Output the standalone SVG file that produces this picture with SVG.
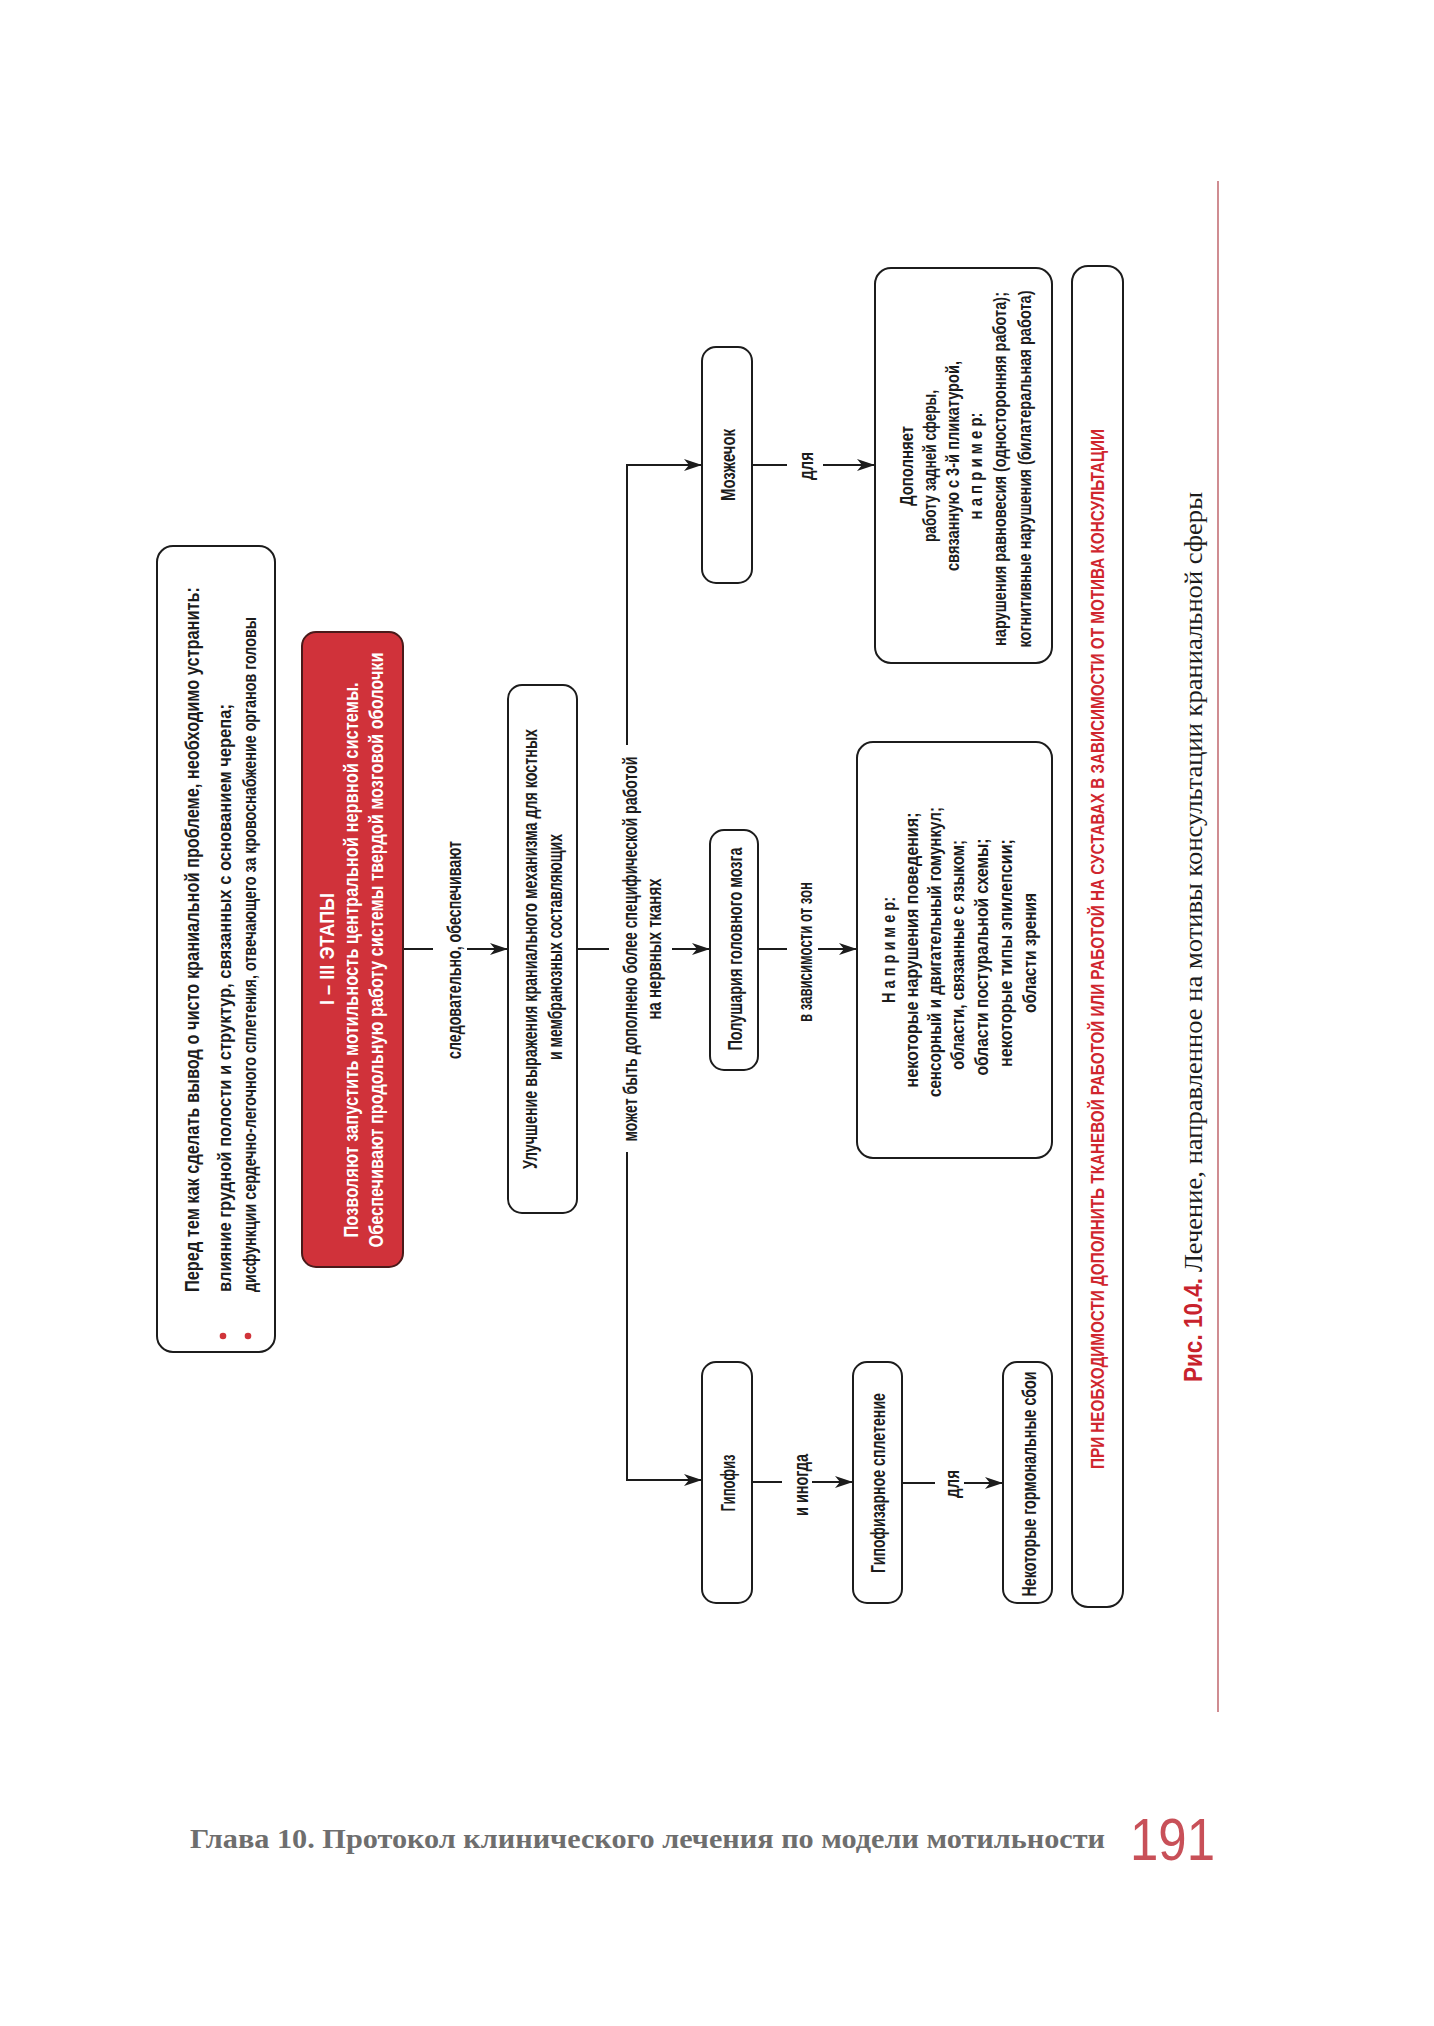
<svg xmlns="http://www.w3.org/2000/svg" width="1434" height="2026" viewBox="0 0 1434 2026">
<style>
.t{font-family:"Liberation Sans Narrow","Liberation Sans","DejaVu Sans Condensed",sans-serif;fill:#1c1c1c;font-weight:bold;}
.box{fill:#fff;stroke:#1c1c1c;stroke-width:2;}
.ln{stroke:#1c1c1c;stroke-width:2;fill:none;}
.w{fill:#fff;}
.red{fill:#d0262e;}
</style>
<defs>
<marker id="ah" markerWidth="18" markerHeight="12" refX="18" refY="6" orient="auto" markerUnits="userSpaceOnUse">
<path d="M0,0 L18,6 L0,12 L5,6 z" fill="#1c1c1c"/>
</marker>
</defs>
<rect width="1434" height="2026" fill="#fff"/>

<g id="connectors">
<path class="ln" d="M403,949 H433"/>
<path class="ln" d="M467,949 H508" marker-end="url(#ah)"/>
<path class="ln" d="M577,949 H609"/>
<path class="ln" d="M672,949 H710" marker-end="url(#ah)"/>
<path class="ln" d="M627,745 V465 H702" marker-end="url(#ah)"/>
<path class="ln" d="M627,1152 V1480 H702" marker-end="url(#ah)"/>
<path class="ln" d="M752,465 H787"/>
<path class="ln" d="M823,465 H875" marker-end="url(#ah)"/>
<path class="ln" d="M758,949 H787"/>
<path class="ln" d="M818,949 H857" marker-end="url(#ah)"/>
<path class="ln" d="M752,1482 H782"/>
<path class="ln" d="M812,1482 H853" marker-end="url(#ah)"/>
<path class="ln" d="M902,1483 H935"/>
<path class="ln" d="M964,1483 H1003" marker-end="url(#ah)"/>
<text class="t" font-size="20" text-anchor="middle" transform="translate(461,950) rotate(-90)" textLength="218" lengthAdjust="spacingAndGlyphs">следовательно, обеспечивают</text>
<text class="t" font-size="20" text-anchor="middle" transform="translate(637,949) rotate(-90)" textLength="385" lengthAdjust="spacingAndGlyphs">может быть дополнено более специфической работой</text>
<text class="t" font-size="20" text-anchor="middle" transform="translate(661,949) rotate(-90)" textLength="141" lengthAdjust="spacingAndGlyphs">на нервных тканях</text>
<text class="t" font-size="20" text-anchor="middle" transform="translate(813,466) rotate(-90)" textLength="28" lengthAdjust="spacingAndGlyphs">для</text>
<text class="t" font-size="20" text-anchor="middle" transform="translate(812,952) rotate(-90)" textLength="140" lengthAdjust="spacingAndGlyphs">в зависимости от зон</text>
<text class="t" font-size="20" text-anchor="middle" transform="translate(808,1485) rotate(-90)" textLength="62" lengthAdjust="spacingAndGlyphs">и иногда</text>
<text class="t" font-size="20" text-anchor="middle" transform="translate(959,1484) rotate(-90)" textLength="28" lengthAdjust="spacingAndGlyphs">для</text>
</g>

<g id="n-intro">
<rect class="box" x="157" y="546" width="118" height="806" rx="16"/>
<text class="t" font-size="21" transform="translate(199,1292) rotate(-90)" textLength="705" lengthAdjust="spacingAndGlyphs">Перед тем как сделать вывод о чисто краниальной проблеме, необходимо устранить:</text>
<circle cx="223" cy="1336" r="3.3" fill="#d0343a"/>
<text class="t" font-size="19" transform="translate(231,1292) rotate(-90)" textLength="588" lengthAdjust="spacingAndGlyphs">влияние грудной полости и структур, связанных с основанием черепа;</text>
<circle cx="248" cy="1336" r="3.3" fill="#d0343a"/>
<text class="t" font-size="19" transform="translate(256,1292) rotate(-90)" textLength="675" lengthAdjust="spacingAndGlyphs">дисфункции сердечно-легочного сплетения, отвечающего за кровоснабжение органов головы</text>
</g>

<g id="n-stages">
<rect x="302" y="632" width="101" height="635" rx="14" fill="#d0323a" stroke="#4a1a1a" stroke-width="2"/>
<text class="t w" font-size="20" text-anchor="middle" transform="translate(334,949) rotate(-90)" textLength="112" lengthAdjust="spacingAndGlyphs">I – III ЭТАПЫ</text>
<text class="t w" font-size="20" text-anchor="middle" transform="translate(358,960) rotate(-90)" textLength="555" lengthAdjust="spacingAndGlyphs">Позволяют запустить мотильность центральной нервной системы.</text>
<text class="t w" font-size="20" text-anchor="middle" transform="translate(383,950) rotate(-90)" textLength="595" lengthAdjust="spacingAndGlyphs">Обеспечивают продольную работу системы твердой мозговой оболочки</text>
</g>

<g id="n-improve">
<rect class="box" x="508" y="685" width="69" height="528" rx="14"/>
<text class="t" font-size="20" text-anchor="middle" transform="translate(537,949) rotate(-90)" textLength="440" lengthAdjust="spacingAndGlyphs">Улучшение выражения краниального механизма для костных</text>
<text class="t" font-size="20" text-anchor="middle" transform="translate(562,947) rotate(-90)" textLength="226" lengthAdjust="spacingAndGlyphs">и мембранозных составляющих</text>
</g>

<g id="n-cerebellum">
<rect class="box" x="702" y="347" width="50" height="236" rx="14"/>
<text class="t" font-size="20" text-anchor="middle" transform="translate(735,465) rotate(-90)" textLength="72" lengthAdjust="spacingAndGlyphs">Мозжечок</text>
</g>

<g id="n-complement">
<rect class="box" x="875" y="268" width="177" height="395" rx="16"/>
<text class="t" font-size="19" text-anchor="middle" transform="translate(913,466) rotate(-90)" textLength="80" lengthAdjust="spacingAndGlyphs">Дополняет</text>
<text class="t" font-size="19" text-anchor="middle" transform="translate(936,466) rotate(-90)" textLength="152" lengthAdjust="spacingAndGlyphs">работу задней сферы,</text>
<text class="t" font-size="19" text-anchor="middle" transform="translate(959,466) rotate(-90)" textLength="210" lengthAdjust="spacingAndGlyphs">связанную с 3-й пликатурой,</text>
<text class="t" font-size="19" text-anchor="middle" transform="translate(982,466) rotate(-90)" textLength="107" lengthAdjust="spacingAndGlyphs">н а п р и м е р:</text>
<text class="t" font-size="19" text-anchor="middle" transform="translate(1006,469) rotate(-90)" textLength="354" lengthAdjust="spacingAndGlyphs">нарушения равновесия (односторонняя работа);</text>
<text class="t" font-size="19" text-anchor="middle" transform="translate(1031,469) rotate(-90)" textLength="357" lengthAdjust="spacingAndGlyphs">когнитивные нарушения (билатеральная работа)</text>
</g>

<g id="n-hemispheres">
<rect class="box" x="710" y="830" width="48" height="240" rx="14"/>
<text class="t" font-size="20" text-anchor="middle" transform="translate(742,949) rotate(-90)" textLength="203" lengthAdjust="spacingAndGlyphs">Полушария головного мозга</text>
</g>

<g id="n-examples">
<rect class="box" x="857" y="742" width="195" height="416" rx="16"/>
<text class="t" font-size="19" text-anchor="middle" transform="translate(895,950) rotate(-90)" textLength="106" lengthAdjust="spacingAndGlyphs">Н а п р и м е р:</text>
<text class="t" font-size="19" text-anchor="middle" transform="translate(918,950) rotate(-90)" textLength="275" lengthAdjust="spacingAndGlyphs">некоторые нарушения поведения;</text>
<text class="t" font-size="19" text-anchor="middle" transform="translate(941,952) rotate(-90)" textLength="290" lengthAdjust="spacingAndGlyphs">сенсорный и двигательный гомункул;</text>
<text class="t" font-size="19" text-anchor="middle" transform="translate(964,955) rotate(-90)" textLength="230" lengthAdjust="spacingAndGlyphs">области, связанные с языком;</text>
<text class="t" font-size="19" text-anchor="middle" transform="translate(988,957) rotate(-90)" textLength="237" lengthAdjust="spacingAndGlyphs">области постуральной схемы;</text>
<text class="t" font-size="19" text-anchor="middle" transform="translate(1012,953) rotate(-90)" textLength="228" lengthAdjust="spacingAndGlyphs">некоторые типы эпилепсии;</text>
<text class="t" font-size="19" text-anchor="middle" transform="translate(1036,953) rotate(-90)" textLength="120" lengthAdjust="spacingAndGlyphs">области зрения</text>
</g>

<g id="n-pituitary">
<rect class="box" x="702" y="1362" width="50" height="241" rx="14"/>
<text class="t" font-size="20" text-anchor="middle" transform="translate(735,1483) rotate(-90)" textLength="57" lengthAdjust="spacingAndGlyphs">Гипофиз</text>
</g>

<g id="n-plexus">
<rect class="box" x="853" y="1362" width="49" height="241" rx="14"/>
<text class="t" font-size="20" text-anchor="middle" transform="translate(885,1483) rotate(-90)" textLength="180" lengthAdjust="spacingAndGlyphs">Гипофизарное сплетение</text>
</g>

<g id="n-hormonal">
<rect class="box" x="1003" y="1362" width="49" height="241" rx="14"/>
<text class="t" font-size="20" text-anchor="middle" transform="translate(1036,1484) rotate(-90)" textLength="225" lengthAdjust="spacingAndGlyphs">Некоторые гормональные сбои</text>
</g>

<g id="n-note">
<rect class="box" x="1072" y="266" width="51" height="1341" rx="16"/>
<text class="t red" font-size="19" text-anchor="middle" transform="translate(1104,949) rotate(-90)" textLength="1040" lengthAdjust="spacingAndGlyphs">ПРИ НЕОБХОДИМОСТИ ДОПОЛНИТЬ ТКАНЕВОЙ РАБОТОЙ ИЛИ РАБОТОЙ НА СУСТАВАХ В ЗАВИСИМОСТИ ОТ МОТИВА КОНСУЛЬТАЦИИ</text>
</g>

<g id="caption">
<text font-family="'Liberation Sans Narrow','Liberation Sans',sans-serif" font-weight="bold" font-size="25" fill="#c8222c" transform="translate(1202,1382) rotate(-90)" textLength="104" lengthAdjust="spacingAndGlyphs">Рис. 10.4.</text>
<text font-family="'Liberation Serif','DejaVu Serif',serif" font-size="25" fill="#1c1c1c" transform="translate(1202,1272) rotate(-90)" textLength="780" lengthAdjust="spacingAndGlyphs">Лечение, направленное на мотивы консультации краниальной сферы</text>
<line x1="1218" y1="181" x2="1218" y2="1712" stroke="#b04048" stroke-width="1.2"/>
</g>

<g id="footer">
<text x="190" y="1848" font-family="'Liberation Serif','DejaVu Serif',serif" font-weight="bold" font-size="27" fill="#6e6e6e" textLength="915" lengthAdjust="spacingAndGlyphs">Глава 10. Протокол клинического лечения по модели мотильности</text>
<text x="1130" y="1860" font-family="'Liberation Sans Narrow','Liberation Sans',sans-serif" font-size="60" fill="#c85058" textLength="85" lengthAdjust="spacingAndGlyphs">191</text>
</g>
</svg>
